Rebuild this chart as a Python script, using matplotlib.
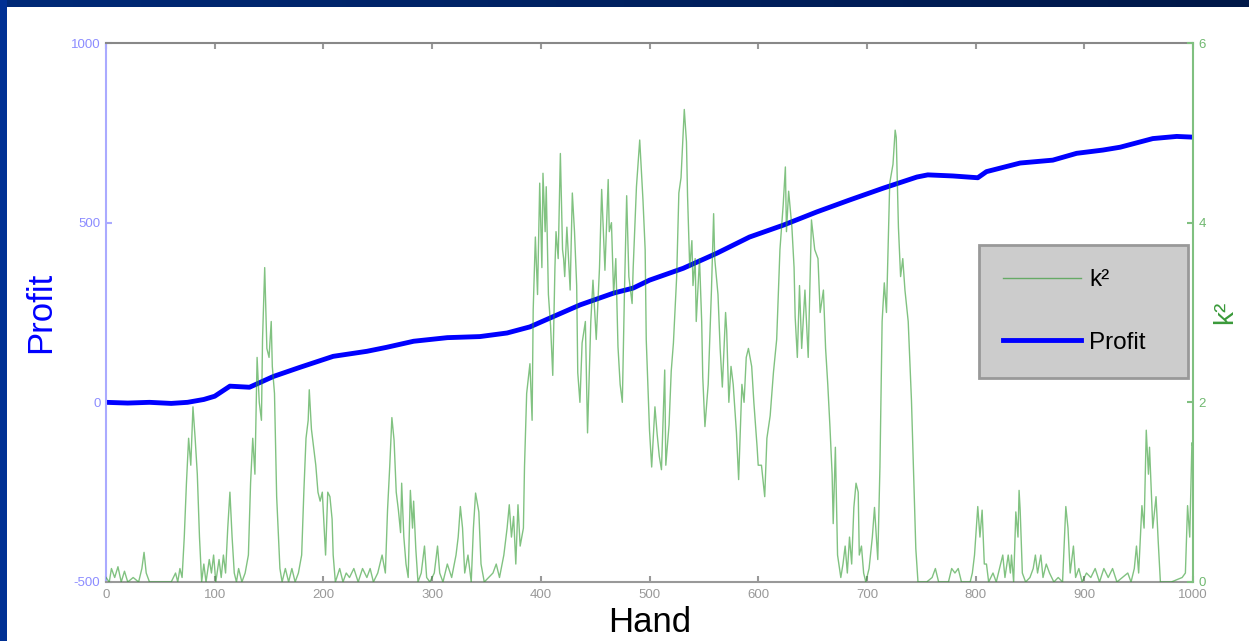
import numpy as np
import matplotlib.pyplot as plt

plt.rcParams['font.family'] = ['Liberation Sans', 'DejaVu Sans']
plt.rcParams['axes.unicode_minus'] = False

# profit curve
hand_profit = [0, 20, 40, 60, 75, 90, 100, 114, 132, 154, 178, 209, 240, 258, 283,
               314, 344, 369, 390, 411, 436, 467, 485, 500, 531, 562, 592, 623, 654,
               684, 715, 746, 756, 779, 802, 810, 841, 871, 893, 917, 933, 963, 985, 1000]
profit = [0, -2, 0, -3, 0, 8, 17, 45, 42, 72, 97, 128, 142, 153, 170,
          180, 183, 193, 210, 238, 271, 304, 318, 340, 373, 415, 460, 493, 530,
          563, 596, 627, 633, 630, 625, 642, 666, 674, 693, 702, 710, 734, 740, 738]

# k^2 curve
hand_k2 = [0, 3, 5, 8, 11, 14, 17, 20, 25, 30, 33, 35, 37, 40, 50, 60, 64, 66, 68, 70,
           72, 74, 76, 78, 80, 82, 84, 86, 88, 90, 92, 95, 97, 99, 101, 104, 106, 108,
           110, 112, 114, 116, 118, 120, 122, 125, 128, 131, 133, 135, 137, 139, 141,
           143, 144, 146, 148, 150, 152, 153, 155, 157, 160, 162, 165, 168, 171, 174,
           177, 180, 182, 184, 186, 187, 189, 191, 193, 195, 197, 199, 202, 204, 206,
           208, 209, 211, 215, 218, 221, 224, 228, 232, 236, 240, 243, 246, 250, 254,
           257, 259, 261, 263, 265, 267, 269, 271, 272, 274, 276, 278, 280, 282, 283,
           285, 287, 290, 293, 295, 298, 302, 305, 307, 310, 314, 318, 322, 324, 326,
           328, 330, 333, 336, 338, 340, 343, 345, 348, 352, 356, 359, 362, 366, 369,
           371, 373, 375, 377, 379, 381, 384, 385, 387, 390, 392, 393, 395, 397, 399,
           401, 402, 404, 405, 407, 409, 411, 413, 414, 416, 418, 420, 421, 422, 424,
           427, 429, 431, 433, 434, 436, 438, 441, 443, 446, 448, 451, 454, 456, 459,
           462, 463, 465, 467, 469, 471, 473, 475, 477, 479, 481, 484, 485, 488, 491,
           494, 496, 497, 500, 502, 505, 507, 509, 511, 514, 515, 518, 520, 522, 525,
           527, 529, 532, 534, 535, 537, 539, 540, 542, 543, 546, 548, 549, 551, 554,
           557, 559, 560, 563, 565, 567, 570, 571, 573, 575, 577, 580, 582, 585, 587,
           589, 591, 594, 596, 599, 600, 603, 606, 608, 611, 614, 617, 620, 623, 625,
           626, 628, 631, 633, 634, 636, 638, 640, 643, 646, 649, 652, 655, 657, 660,
           662, 664, 666, 668, 669, 671, 673, 676, 678, 680, 682, 684, 686, 688, 690,
           692, 693, 695, 697, 699, 702, 705, 707, 710, 712, 714, 716, 718, 721, 724,
           726, 727, 729, 731, 733, 735, 738, 741, 743, 745, 747, 755, 760, 763, 766,
           775, 778, 781, 784, 787, 795, 797, 799, 802, 804, 806, 808, 810, 812, 816,
           819, 822, 825, 827, 830, 832, 833, 835, 837, 839, 840, 841, 843, 846, 850,
           853, 855, 857, 860, 862, 865, 868, 872, 876, 880, 883, 885, 887, 890, 892,
           895, 898, 902, 906, 910, 914, 918, 922, 926, 930, 935, 940, 943, 946, 948,
           950, 953, 955, 957, 959, 960, 963, 966, 968, 970, 980, 990, 993, 995, 997,
           999, 1000]
k2 = [0.05, 0.0, 0.15, 0.05, 0.17, 0.0, 0.12, 0.0, 0.05, 0.0, 0.15, 0.33, 0.1, 0.0, 0.0,
      0.0, 0.1, 0.0, 0.15, 0.05,
      0.5, 1.1, 1.6, 1.3, 1.95, 1.6, 1.2, 0.5, 0.0, 0.2, 0.0, 0.25, 0.1, 0.3, 0.0, 0.25,
      0.05, 0.3, 0.1, 0.6, 1.0, 0.5, 0.1, 0.0, 0.15, 0.0, 0.1, 0.3, 1.1, 1.6, 1.2, 2.5,
      2.0, 1.8, 2.7, 3.5, 2.6, 2.5, 2.9, 2.4, 2.1, 0.95, 0.15, 0.0, 0.15, 0.0, 0.15, 0.0,
      0.1, 0.3, 1.0, 1.6, 1.8, 2.14, 1.7, 1.5, 1.3, 1.0, 0.9, 1.0, 0.3, 1.0, 0.95,
      0.7, 0.3, 0.0, 0.15, 0.0, 0.1, 0.05, 0.15, 0.0, 0.15, 0.05, 0.15, 0.0, 0.1, 0.3,
      0.1, 0.8, 1.28, 1.83, 1.58, 1.0, 0.8, 0.55, 1.1, 0.5, 0.2, 0.05, 1.02, 0.6, 0.9,
      0.37, 0.0, 0.1, 0.4, 0.05, 0.0, 0.1, 0.4, 0.1, 0.0, 0.2, 0.05, 0.3, 0.5, 0.84,
      0.6, 0.1, 0.3, 0.0, 0.6, 0.99, 0.78, 0.2, 0.0, 0.05, 0.1, 0.2, 0.05, 0.3, 0.6,
      0.86, 0.5, 0.73, 0.2, 0.86, 0.4, 0.6, 1.28, 2.1, 2.43, 1.8, 3.03, 3.84, 3.2, 4.44,
      3.5, 4.55, 3.9, 4.4, 3.2, 2.85, 2.3, 3.5, 3.9, 3.6, 4.77, 3.7, 3.6, 3.4, 3.95,
      3.25, 4.33, 3.9, 3.3, 2.33, 2.0, 2.66, 2.9, 1.66, 2.9, 3.36, 2.7, 3.5, 4.37, 3.47,
      4.48, 3.9, 4.0, 3.2, 3.6, 2.62, 2.2, 2.0, 3.25, 4.3, 3.4, 3.1, 3.5, 4.4, 4.92,
      4.25, 3.7, 2.7, 1.69, 1.28, 1.95, 1.65, 1.4, 1.25, 2.36, 1.3, 1.75, 2.35, 2.66, 3.4,
      4.33, 4.5, 5.26, 4.9, 4.3, 3.5, 3.8, 3.3, 3.6, 2.9, 3.6, 2.9, 2.28, 1.73, 2.2,
      3.25, 4.1, 3.6, 3.2, 2.6, 2.17, 3.0, 2.8, 2.0, 2.4, 2.2, 1.66, 1.14, 2.2, 2.0,
      2.5, 2.6, 2.4, 2.0, 1.5, 1.3, 1.3, 0.95, 1.6, 1.85, 2.33, 2.7, 3.7, 4.2, 4.62,
      3.9, 4.35, 3.95, 3.5, 2.95, 2.5, 3.3, 2.6, 3.25, 2.5, 4.03, 3.7, 3.6, 3.0, 3.25,
      2.6, 2.2, 1.73, 1.2, 0.65, 1.5, 0.3, 0.05, 0.2, 0.4, 0.1, 0.5, 0.2, 0.83, 1.1,
      1.0, 0.3, 0.4, 0.1, 0.0, 0.15, 0.5, 0.83, 0.25, 1.28, 2.9, 3.33, 3.0, 4.44, 4.65,
      5.03, 4.95, 3.95, 3.4, 3.6, 3.25, 2.9, 2.02, 1.2, 0.37, 0.0, 0.0, 0.05, 0.15, 0.0,
      0.0, 0.15, 0.1, 0.15, 0.0, 0.0, 0.1, 0.3, 0.84, 0.5, 0.8, 0.2, 0.2, 0.0, 0.1,
      0.0, 0.15, 0.3, 0.05, 0.3, 0.1, 0.3, 0.0, 0.78, 0.5, 1.02, 0.8, 0.1, 0.0, 0.05,
      0.15, 0.3, 0.1, 0.3, 0.05, 0.2, 0.1, 0.0, 0.05, 0.0, 0.84, 0.6, 0.1, 0.4, 0.05,
      0.15, 0.0, 0.1, 0.05, 0.15, 0.0, 0.15, 0.05, 0.15, 0.0, 0.05, 0.1, 0.0, 0.15, 0.4,
      0.1, 0.85, 0.6, 1.69, 1.2, 1.5, 0.6, 0.95, 0.45, 0.0, 0.0, 0.05, 0.1, 0.85, 0.5,
      1.55, 1.5]

W, H = 1249, 641
fig = plt.figure(figsize=(W / 100, H / 100), dpi=100)
fig.patch.set_facecolor('white')

# dark blue slide border (top and left)
top_band = fig.add_axes([0, 1 - 7 / H, 1, 7 / H])
top_band.imshow(np.linspace(0, 1, 256).reshape(1, -1), aspect='auto',
                cmap=plt.matplotlib.colors.LinearSegmentedColormap.from_list(
                    'nav', ['#002a78', '#001848']))
top_band.axis('off')
left_band = fig.add_axes([0, 0, 7 / W, 1])
left_band.set_facecolor('#003094')
left_band.set_xticks([])
left_band.set_yticks([])
for s in left_band.spines.values():
    s.set_visible(False)

ax = fig.add_axes([106 / W, 1 - 582 / H, 1087 / W, 539 / H])
p_line, = ax.plot(hand_profit, profit, color='#0000ff', lw=3.5, label='Profit')
ax.set_xlim(0, 1000)
ax.set_ylim(-500, 1000)
ax.set_xticks(range(0, 1001, 100))
ax.set_yticks([-500, 0, 500, 1000])

ax2 = ax.twinx()
k_line, = ax2.plot(hand_k2, k2, color='#2e9a2e', alpha=0.6, lw=1.0, label='k²')
ax2.set_ylim(0, 6)
ax2.set_yticks([0, 2, 4, 6])

# spines
ax.spines['left'].set_color('#aaaaff')
ax.spines['top'].set_color('#888888')
ax.spines['bottom'].set_color('#999999')
ax.spines['right'].set_visible(False)
for side in ['left', 'top', 'bottom']:
    ax2.spines[side].set_visible(False)
ax2.spines['right'].set_color('#80c080')
for s in list(ax.spines.values()) + list(ax2.spines.values()):
    s.set_linewidth(1.5)

ax.tick_params(axis='x', direction='in', top=True, length=4, width=1.5,
               color='#999999', labelcolor='#999999', labelsize=9.5, pad=5)
ax.tick_params(axis='y', direction='in', length=4, width=1.5,
               color='#aaaaff', labelcolor='#8c8cff', labelsize=9.5, pad=4)
ax2.tick_params(axis='y', direction='in', length=4, width=1.5,
                color='#80c080', labelcolor='#70b870', labelsize=9.5, pad=4)

ax.set_xlabel('Hand', fontsize=25, labelpad=4)
ax.set_ylabel('Profit', fontsize=25, color='#0000ff')
ax.yaxis.set_label_coords(-0.045, 0.5)
ax2.set_ylabel('k²', fontsize=20, color='#3a9a3a')
ax2.yaxis.set_label_coords(1.018, 0.5)

leg = ax2.legend([k_line, p_line], ['k²', 'Profit'], loc='upper left',
                 bbox_to_anchor=(0.803, 0.388, 0.192, 0.237), mode='expand',
                 borderaxespad=0, fontsize=17.5, handlelength=3.2,
                 handletextpad=0.35, labelspacing=1.65, borderpad=1.0,
                 fancybox=False, framealpha=1, facecolor='#cccccc',
                 edgecolor='#999999')
leg.get_frame().set_linewidth(2)
for line in leg.get_lines():
    line.set_alpha(1)
leg.get_lines()[0].set_color('#66aa66')

fig.savefig('out.png', dpi=100)
